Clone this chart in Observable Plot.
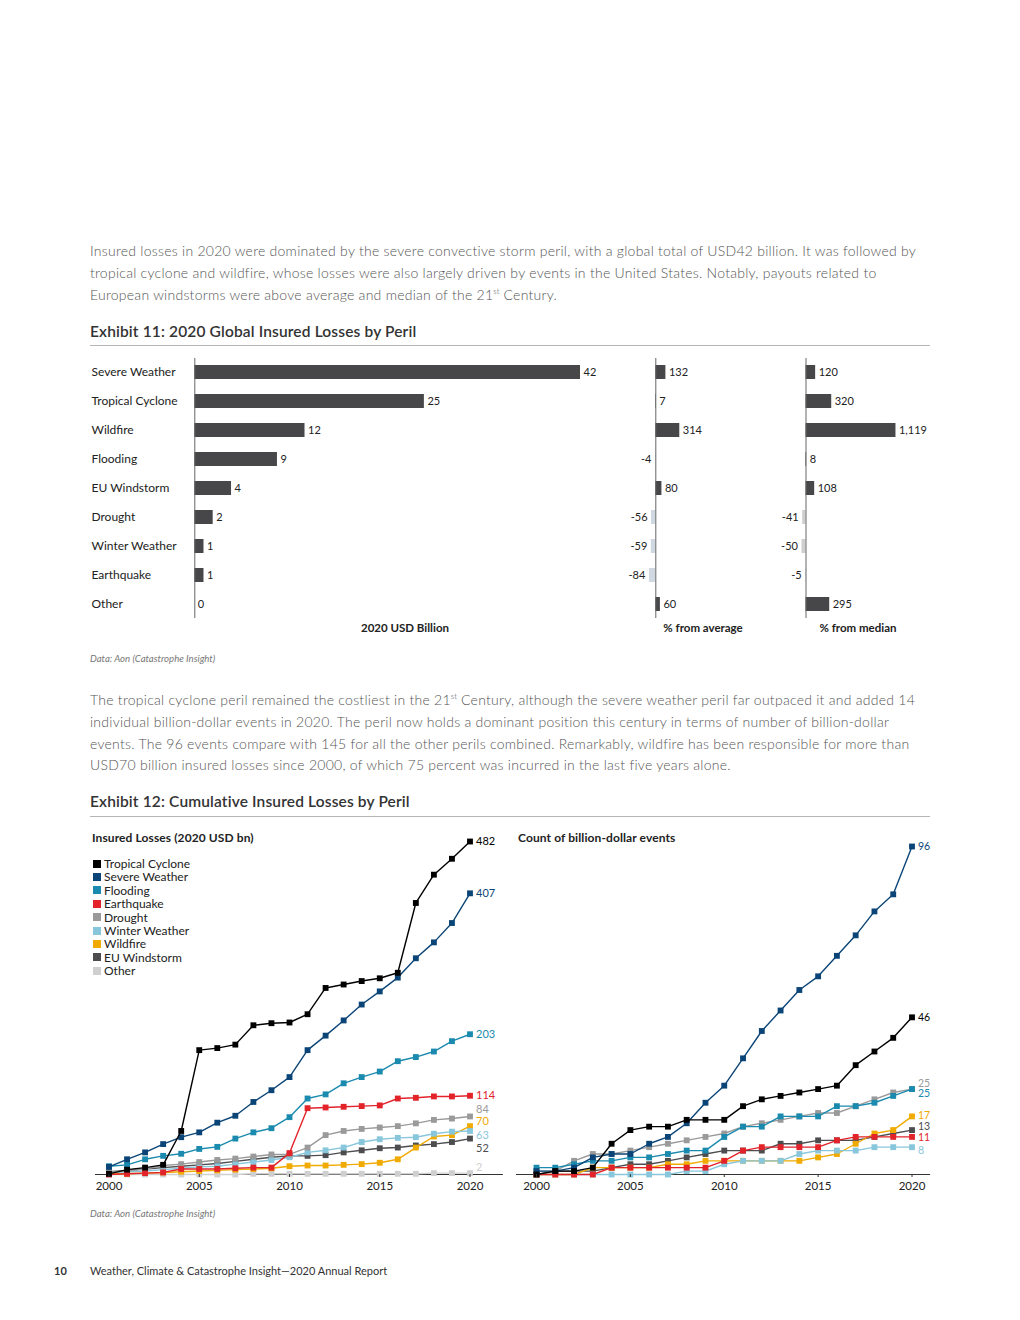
<!DOCTYPE html>
<html>
<head>
<meta charset="utf-8">
<script src="https://cdn.jsdelivr.net/npm/d3@7"></script>
<script src="https://cdn.jsdelivr.net/npm/@observablehq/plot@0.6"></script>
<style>
html,body{margin:0;padding:0;background:#fff;}
#page{position:relative;width:1020px;height:1320px;font-family:Lato,"Open Sans",sans-serif;color:#333;overflow:hidden;}
.a{position:absolute;white-space:nowrap;}
.para{left:90px;font-size:14px;line-height:21.8px;color:#555;font-weight:300;letter-spacing:0.26px}
.para sup{font-size:8px;line-height:0;vertical-align:super;letter-spacing:0}
.head{left:90px;font-size:15.5px;font-weight:600;color:#333;line-height:20px;letter-spacing:0.15px}
.rule{left:90px;width:840px;height:0;border-top:1.5px solid #b5b5b5;}
.src{left:90px;font-size:9.6px;font-style:italic;color:#777;line-height:12px}
.axlab{font-size:11.5px;font-weight:700;color:#222;line-height:14px;transform:translateX(-50%)}
.ctitle{font-size:12px;font-weight:700;color:#222;line-height:14px;letter-spacing:0.1px}
.legend{left:93px;top:857px;font-size:12px;line-height:13.4px;color:#222}
.legend .row{display:flex;align-items:center;height:13.4px}
.legend .sw{width:8px;height:8px;margin-right:3px;display:inline-block}
.plot{position:absolute}
.footer{font-size:11px;color:#333;line-height:14px}
</style>
</head>
<body>
<div id="page">
  <div class="a para" style="top:240px">
    Insured losses in 2020 were dominated by the severe convective storm peril, with a global total of USD42 billion. It was followed by<br>
    tropical cyclone and wildfire, whose losses were also largely driven by events in the United States. Notably, payouts related to<br>
    European windstorms were above average and median of the 21<sup>st</sup> Century.
  </div>
  <div class="a head" style="top:321px">Exhibit 11: 2020 Global Insured Losses by Peril</div>
  <div class="a rule" style="top:345px"></div>

  <div id="ex11a" class="plot" style="left:85px;top:355px"></div>
  <div id="ex11b" class="plot" style="left:600px;top:355px"></div>
  <div id="ex11c" class="plot" style="left:760px;top:355px"></div>
  <div class="a axlab" style="left:405px;top:621px">2020 USD Billion</div>
  <div class="a axlab" style="left:703px;top:621px">% from average</div>
  <div class="a axlab" style="left:858px;top:621px">% from median</div>
  <div class="a src" style="top:653px">Data: Aon (Catastrophe Insight)</div>

  <div class="a para" style="top:689px">
    The tropical cyclone peril remained the costliest in the 21<sup>st</sup> Century, although the severe weather peril far outpaced it and added 14<br>
    individual billion-dollar events in 2020. The peril now holds a dominant position this century in terms of number of billion-dollar<br>
    events. The 96 events compare with 145 for all the other perils combined. Remarkably, wildfire has been responsible for more than<br>
    USD70 billion insured losses since 2000, of which 75 percent was incurred in the last five years alone.
  </div>
  <div class="a head" style="top:791px">Exhibit 12: Cumulative Insured Losses by Peril</div>
  <div class="a rule" style="top:816px"></div>

  <div class="a ctitle" style="left:92px;top:831px">Insured Losses (2020 USD bn)</div>
  <div class="a ctitle" style="left:518px;top:831px">Count of billion-dollar events</div>
  <div id="legend" class="a legend"></div>
  <div id="ex12a" class="plot" style="left:90px;top:830px"></div>
  <div id="ex12b" class="plot" style="left:515px;top:830px"></div>
  <div class="a src" style="top:1208px">Data: Aon (Catastrophe Insight)</div>

  <div class="a footer" style="left:54px;top:1264px;font-weight:700">10</div>
  <div class="a footer" style="left:90px;top:1264px">Weather, Climate &amp; Catastrophe Insight—2020 Annual Report</div>
</div>
<script>
// ---------- Exhibit 11 data ----------
const perils = ["Severe Weather","Tropical Cyclone","Wildfire","Flooding","EU Windstorm","Drought","Winter Weather","Earthquake","Other"];
const losses2020 = [42, 25, 12, 9, 4, 2, 1, 1, 0];
const pctFromAverage = [132, 7, 314, -4, 80, -56, -59, -84, 60];
const pctFromMedian = [120, 320, 1119, 8, 108, -41, -50, -5, 295];

// ---------- Exhibit 12 data ----------
const years = [2000,2001,2002,2003,2004,2005,2006,2007,2008,2009,2010,2011,2012,2013,2014,2015,2016,2017,2018,2019,2020];
const seriesNames = ["Tropical Cyclone","Severe Weather","Flooding","Earthquake","Drought","Winter Weather","Wildfire","EU Windstorm","Other"];
const seriesColors = ["#000000","#0b4577","#1a8aae","#e2232a","#9a9a9a","#88c6db","#f0aa00","#4d4d50","#cfcfcf"];

// cumulative insured losses (2020 USD bn)
const lossTropicalCyclone = [1, 7, 10, 14, 63, 180, 183, 188, 216, 219, 220, 232, 270, 275, 280, 284, 292, 393, 434, 457, 482];
const lossSevereWeather   = [11, 22, 32, 44, 54, 61, 75, 85, 105, 122, 141, 180, 201, 223, 246, 265, 285, 313, 336, 364, 407];
const lossFlooding        = [12, 14, 22, 27, 30, 37, 40, 52, 61, 67, 83, 110, 116, 132, 141, 149, 164, 170, 178, 193, 203];
const lossEarthquake      = [0, 1, 2, 3, 8, 8, 8, 9, 10, 10, 31, 96, 97, 98, 99, 100, 110, 111, 113, 113, 114];
const lossDrought         = [3, 5, 8, 13, 15, 18, 21, 23, 26, 29, 29, 39, 57, 63, 66, 68, 70, 74, 79, 81, 84];
const lossWinterWeather   = [3, 4, 5, 7, 9, 11, 12, 15, 18, 21, 25, 32, 35, 39, 47, 51, 53, 54, 59, 62, 63];
const lossWildfire        = [1, 1, 2, 3, 4, 5, 6, 7, 8, 9, 12, 13, 13, 14, 15, 17, 22, 39, 55, 57, 70];
const lossEUWindstorm     = [4, 6, 8, 10, 12, 14, 16, 19, 22, 25, 27, 27, 28, 32, 35, 38, 39, 42, 44, 47, 52];
const lossOther           = [0, 0, 0, 0, 0, 0, 0, 0, 1, 1, 1, 1, 1, 1, 1, 1, 1, 1, 2, 2, 2];

// cumulative count of billion-dollar events
const countTropicalCyclone = [0, 1, 1, 2, 9, 13, 14, 14, 16, 16, 16, 20, 22, 23, 24, 25, 26, 32, 36, 40, 46];
const countSevereWeather   = [1, 1, 2, 5, 6, 6, 9, 11, 15, 21, 26, 34, 42, 48, 54, 58, 64, 70, 77, 82, 96];
const countFlooding        = [2, 2, 3, 4, 4, 5, 5, 6, 7, 7, 11, 14, 14, 17, 17, 17, 20, 20, 21, 23, 25];
const countEarthquake      = [0, 0, 0, 0, 2, 2, 2, 2, 2, 2, 4, 7, 8, 8, 8, 8, 10, 11, 11, 11, 11];
const countDrought         = [1, 1, 4, 6, 6, 7, 8, 9, 10, 11, 12, 14, 15, 16, 17, 18, 18, 20, 22, 24, 25];
const countWinterWeather   = [0, 0, 0, 0, 0, 0, 0, 0, 1, 1, 3, 4, 4, 4, 6, 7, 7, 7, 8, 8, 8];
const countWildfire        = [0, 0, 0, 2, 2, 2, 2, 3, 3, 4, 4, 4, 4, 4, 4, 5, 6, 9, 12, 13, 17];
const countEUWindstorm     = [0, 1, 1, 1, 2, 3, 3, 4, 5, 6, 7, 7, 7, 9, 9, 10, 10, 10, 11, 12, 13];

const xTicks = [2000, 2005, 2010, 2015, 2020];

// ---------- helpers ----------
const fmt = d3.formatLocale({decimal: ".", thousands: ",", grouping: [3], currency: ["", ""], minus: "-"}).format(",");
const svgStyle = {fontFamily: "Lato, 'Open Sans', sans-serif", fontSize: "11.5px", color: "#222", background: "transparent", overflow: "visible"};
const barDark = "#47474a";

// Exhibit 11, panel A
const rowsA = perils.map((p, i) => ({peril: p, value: losses2020[i]}));
document.getElementById("ex11a").append(Plot.plot({
  width: 520, height: 275, marginLeft: 109.3, marginRight: 25, marginTop: 3, marginBottom: 12,
  style: svgStyle,
  x: {domain: [0, 42], range: [109.3, 495], axis: null},
  y: {domain: perils, range: [3, 263], padding: 0.52, paddingOuter: 0.24, axis: null},
  marks: [
    Plot.barX(rowsA, {x: "value", y: "peril", fill: barDark}),
    Plot.ruleX([0], {stroke: "#666", strokeWidth: 1}),
    Plot.text(rowsA, {x: "value", y: "peril", text: d => fmt(d.value), textAnchor: "start", dx: 3, fill: "#222", fontSize: 11}),
    Plot.text(rowsA, {y: "peril", text: "peril", frameAnchor: "left", textAnchor: "start", dx: -103.3, fill: "#222", fontSize: 12})
  ]
}));

function diffPanel(id, values, zero, per100, negColor, width) {
  const rows = perils.map((p, i) => ({peril: p, value: values[i]}));
  document.getElementById(id).append(Plot.plot({
    width, height: 275, marginLeft: 0, marginRight: 0, marginTop: 3, marginBottom: 12,
    style: svgStyle,
    x: {domain: [0, 100], range: [zero, zero + per100], axis: null},
    y: {domain: perils, range: [3, 263], padding: 0.52, paddingOuter: 0.24, axis: null},
    color: {type: "identity"},
    marks: [
      Plot.barX(rows, {x: "value", y: "peril", fill: d => d.value >= 0 ? barDark : negColor}),
      Plot.ruleX([0], {stroke: "#666", strokeWidth: 1}),
      Plot.text(rows, {filter: d => d.value >= 0, x: "value", y: "peril", text: d => fmt(d.value), textAnchor: "start", dx: 3, fill: "#222", fontSize: 11}),
      Plot.text(rows, {filter: d => d.value < 0, x: "value", y: "peril", text: d => fmt(d.value), textAnchor: "end", dx: -4, fill: "#222", fontSize: 11})
    ]
  }));
}
diffPanel("ex11b", pctFromAverage, 55.3, 7.64, "#d0d9e2", 160);
diffPanel("ex11c", pctFromMedian, 45.5, 8.04, "#cfcfcf", 175);

// Legend
const legend = document.getElementById("legend");
seriesNames.forEach((n, i) => {
  const row = document.createElement("div");
  row.className = "row";
  row.innerHTML = `<span class="sw" style="background:${seriesColors[i]}"></span>${n}`;
  legend.append(row);
});

// Exhibit 12 line charts
function lineChart(id, seriesValues, names, yMax, yTop, xRange, axisX1, axisX2, nudges, labelSize) {
  const marks = [Plot.ruleY([0], {x1: axisX1, x2: axisX2, stroke: "#333", strokeWidth: 1})];
  for (let i = names.length - 1; i >= 0; i--) {
    const name = names[i];
    const color = seriesColors[seriesNames.indexOf(name)];
    const data = years.map((y, j) => ({year: y, value: seriesValues[i][j]}));
    marks.push(
      Plot.line(data, {x: "year", y: "value", stroke: color, strokeWidth: 1.4}),
      Plot.dot(data, {x: "year", y: "value", fill: color, symbol: "square", r: 3.3}),
      Plot.text([data[data.length - 1]], {x: "year", y: "value", text: d => String(d.value), fill: color, textAnchor: "start", dx: 6, dy: nudges[name] || 0, fontSize: labelSize})
    );
  }
  marks.push(Plot.axisX({ticks: xTicks, tickFormat: d => String(d), tickSize: 3, tickPadding: 4, stroke: "#333", fill: "#222", label: null}));
  document.getElementById(id).append(Plot.plot({
    width: 420, height: 370, marginLeft: 0, marginRight: 0, marginTop: 0, marginBottom: 26,
    style: svgStyle,
    x: {domain: [2000, 2020], range: xRange},
    y: {domain: [0, yMax], range: [344, yTop], axis: null},
    marks
  }));
}
lineChart("ex12a",
  [lossTropicalCyclone, lossSevereWeather, lossFlooding, lossEarthquake, lossDrought, lossWinterWeather, lossWildfire, lossEUWindstorm, lossOther],
  seriesNames, 482, 11, [18.5, 379.5], 1999.25, 2021.85,
  {"Drought": -6.5, "Wildfire": -5, "Winter Weather": 4.5, "EU Windstorm": 10, "Other": -6}, 11);
lineChart("ex12b",
  [countTropicalCyclone, countSevereWeather, countFlooding, countEarthquake, countDrought, countWinterWeather, countWildfire, countEUWindstorm],
  seriesNames.slice(0, 8), 96, 16, [21, 396.5], 1998.93, 2020.99,
  {"Drought": -5.5, "Flooding": 5, "Wildfire": -1, "EU Windstorm": -3, "Earthquake": 1, "Winter Weather": 3.5}, 10.5);
</script>
</body>
</html>
